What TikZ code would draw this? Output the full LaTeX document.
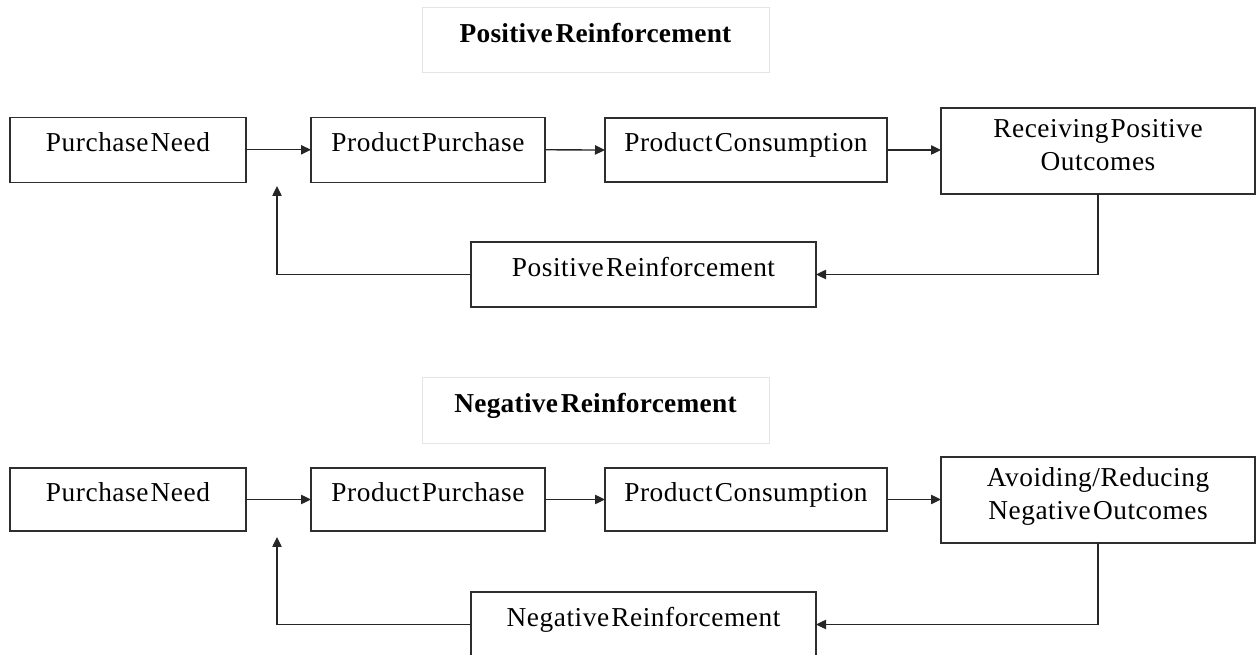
\documentclass[tikz,border=0pt]{standalone}
\usepackage{fontspec}
\setmainfont[LetterSpace=2,WordSpace=0.3]{Liberation Serif}
\newfontfamily\headfont[LetterSpace=1,WordSpace=0.4]{Liberation Serif}
\usetikzlibrary{arrows.meta}
\begin{document}
\begin{tikzpicture}[x=0.75pt,y=-0.75pt,
  sz/.style 2 args={minimum width={#1*0.75pt},minimum height={#2*0.75pt}},
  box/.style={draw=black!82,line width=1pt,inner sep=0pt,outer sep=0pt,
    font=\fontsize{20.5pt}{24.75pt}\selectfont,text height=14pt,text depth=11pt},
  twoline/.style={box,align=center,text height=39pt,text depth=9pt},
  headbox/.style={draw=black!10,line width=0.6pt,inner sep=0pt,outer sep=0pt,
    font=\headfont\bfseries\fontsize{20.5pt}{24.75pt}\selectfont,text height=14pt,text depth=10pt},
  flow/.style={draw=black!85,line width=1pt,-{Triangle[length=7.5pt,width=7pt]}},
  feed/.style={draw=black!85,line width=1pt,-{Triangle[length=7.5pt,width=7pt]}}]
\useasboundingbox (0,0) rectangle (1257,655);

% positive reinforcement loop
\node[headbox,sz={347}{65}] (t1) at (595.5,39.5) {Positive Reinforcement};
\node[box,sz={236}{65}] (n1) at (128,149.8) {Purchase Need};
\node[box,sz={234}{65}] (n2) at (428,149.8) {Product Purchase};
\node[box,sz={282}{64}] (n3) at (746,150) {Product Consumption};
\node[twoline,sz={314}{86}] (n4) at (1098,151) {Receiving Positive\\Outcomes};
\node[box,sz={345}{65}] (n5) at (643.5,274.5) {Positive Reinforcement};
\coordinate (r1) at (277,186);

\draw[flow] (n1.east) -- (n2.west);
\draw[flow] (n2.east) -- (n3.west);
\draw[flow] (n3.east) -- (n3.east -| n4.west);
\draw[feed] (n4.south) |- (n5.east);
\draw[feed] (n5.west) -| (r1);

% negative reinforcement loop
\node[headbox,sz={347}{66}] (t2) at (595.5,410) {Negative Reinforcement};
\node[box,sz={236}{63}] (m1) at (128,499.5) {Purchase Need};
\node[box,sz={234}{63}] (m2) at (428,499.5) {Product Purchase};
\node[box,sz={282}{63}] (m3) at (746,499.5) {Product Consumption};
\node[twoline,sz={314}{86}] (m4) at (1098,500) {Avoiding/Reducing\\Negative Outcomes};
\node[box,sz={345}{65}] (m5) at (643.5,624.5) {Negative Reinforcement};
\coordinate (r2) at (277,537);

\draw[flow] (m1.east) -- (m2.west);
\draw[flow] (m2.east) -- (m3.west);
\draw[flow] (m3.east) -- (m3.east -| m4.west);
\draw[feed] (m4.south) |- (m5.east);
\draw[feed] (m5.west) -| (r2);
\end{tikzpicture}
\end{document}
